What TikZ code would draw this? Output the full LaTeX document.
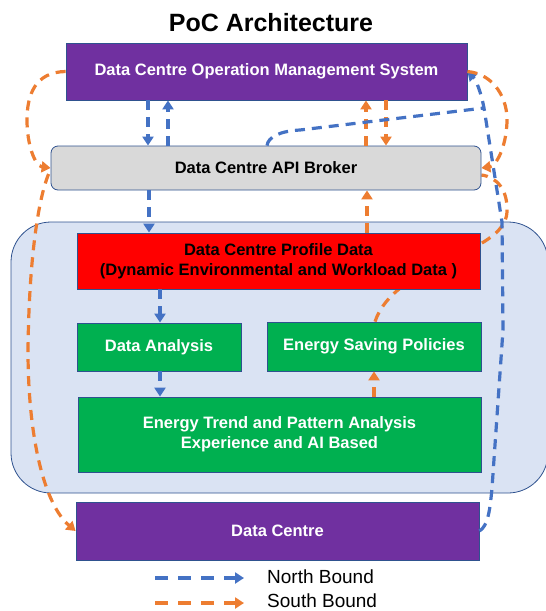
\documentclass[tikz,border=0pt]{standalone}
\usepackage{fontspec}
\setmainfont{Liberation Sans}
\usetikzlibrary{arrows.meta,calc}
\definecolor{dcpurple}{HTML}{7030A0}
\definecolor{dcred}{HTML}{FF0000}
\definecolor{dcgreen}{HTML}{00B050}
\definecolor{dcgray}{HTML}{D9D9D9}
\definecolor{dcpanel}{HTML}{DAE3F3}
\definecolor{dcedge}{HTML}{2F528F}
\definecolor{nbblue}{HTML}{4472C4}
\definecolor{sborange}{HTML}{ED7D31}
\pgfdeclarelayer{bg}
\pgfdeclarelayer{mid}
\pgfsetlayers{bg,mid,main}
\tikzset{
  box/.style={draw=dcedge, line width=0.8pt, inner sep=0pt, align=center,
    font=\fontsize{16.5}{20}\selectfont\bfseries},
  whitebox/.style={box, text=white},
  blackbox/.style={box, text=black},
  dashline/.style={line width=3.2pt, dash pattern=on 10pt off 7pt},
  conn/.style={dashline, -{Triangle[length=9pt,width=11pt]}},
  nb/.style={conn, draw=nbblue},
  sb/.style={conn, draw=sborange},
  nbplain/.style={dashline, draw=nbblue},
  sbplain/.style={dashline, draw=sborange},
  legend/.style={line width=3.2pt, dash pattern=on 13pt off 10pt, -{Triangle[length=9pt,width=11pt]}},
  legtext/.style={font=\fontsize{19}{22}\selectfont, anchor=west, inner sep=0pt}
}
\begin{document}
\begin{tikzpicture}[x=1pt,y=-1pt]
\useasboundingbox (0,0) rectangle (546,611);

% title
\node[font=\fontsize{25}{29}\selectfont\bfseries] (title) at (271,23) {PoC Architecture};

% boxes
\node[whitebox, fill=dcpurple, minimum width=401pt, minimum height=57pt] (dcoms) at (266.5,71.5) {Data Centre Operation Management System};
\node[blackbox, fill=dcgray, rounded corners=7pt, minimum width=430pt, minimum height=44pt] (broker) at (266,168) {Data Centre API Broker};
\node[blackbox, fill=dcred, minimum width=403pt, minimum height=56pt] (profile) at (278.5,261) {Data Centre Profile Data\\(Dynamic Environmental and Workload Data )};
\node[whitebox, fill=dcgreen, minimum width=164pt, minimum height=48pt] (da) at (159,347) {Data Analysis};
\node[whitebox, fill=dcgreen, minimum width=214pt, minimum height=49pt] (esp) at (374,346.5) {Energy Saving Policies};
\node[whitebox, fill=dcgreen, minimum width=403pt, minimum height=75pt] (trend) at (279.5,434.5) {Energy Trend and Pattern Analysis\\Experience and AI Based};
\node[whitebox, fill=dcpurple, minimum width=403pt, minimum height=58pt] (dc) at (277.5,531) {Data Centre};

% panel behind
\begin{pgfonlayer}{bg}
  \draw[draw=dcedge, line width=0.8pt, fill=dcpanel, rounded corners=40pt] (11,222) rectangle (548,493);
\end{pgfonlayer}

% curve hidden behind the profile box
\begin{pgfonlayer}{mid}
  \draw[sbplain] (375,0 |- esp.north) .. controls (395,262) and (505,255) .. (507,212)
     .. controls (508,190) and (497,177) .. ($(broker.east)+(0,7)$);
\end{pgfonlayer}

% vertical links
\draw[nb] (148,0 |- dcoms.south) -- (148,0 |- broker.north);
\draw[nb] (168,0 |- broker.north) -- (168,0 |- dcoms.south);
\draw[sb] (366,0 |- broker.north) -- (366,0 |- dcoms.south);
\draw[sb] (386,0 |- dcoms.south) -- (386,0 |- broker.north);
\draw[nb] (149,0 |- broker.south) -- (149,0 |- profile.north);
\draw[sb] (367,0 |- profile.north) -- (367,0 |- broker.south);
\draw[nb] (160,0 |- profile.south) -- (160,0 |- da.north);
\draw[nb] (160,0 |- da.south) -- (160,0 |- trend.north);
\draw[sb] (374,0 |- trend.north) -- (374,0 |- esp.south);

% right side links
\coordinate (j) at (484,108);
\draw[nb] (dc.east) .. controls (488,526) and (490,510) .. (492,488)
   -- (503,330) -- (502,222) -- (j) .. controls (481,92) and (476,80) .. (dcoms.east);
\draw[nbplain] (267,0 |- broker.north) .. controls (268,137) and (280,131) .. (300,130) -- (j);
\draw[sb] (dcoms.east) .. controls (495,74) and (508,100) .. (507,122)
   .. controls (506,148) and (496,166) .. (broker.east);

% left side links
\draw[sb] (dcoms.west) .. controls (35,72) and (27,95) .. (27,120)
   .. controls (27,145) and (35,166) .. (broker.west);
\draw[sb] ($(broker.west)+(-2,6)$) .. controls (38,200) and (29,260) .. (28,350)
   .. controls (28,440) and (45,505) .. (dc.west);

% legend
\node[legtext] (nblabel) at (267,577) {North Bound};
\node[legtext] (sblabel) at (267,601) {South Bound};
\coordinate (nbstart) at (155,578);
\coordinate (sbstart) at (155,603);
\draw[legend, draw=nbblue] (nbstart) -- ($(nbstart -| nblabel.west)+(-23,0)$);
\draw[legend, draw=sborange] (sbstart) -- ($(sbstart -| sblabel.west)+(-23,0)$);
\end{tikzpicture}
\end{document}
